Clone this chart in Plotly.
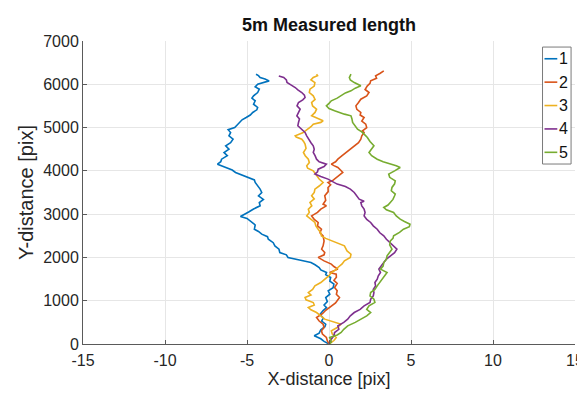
import plotly.graph_objects as go

# ---- data ----
series_names = ["1", "2", "3", "4", "5"]
colors = ["#0072BD", "#D95319", "#EDB120", "#7E2F8E", "#77AC30"]

y1 = [0, 60, 120, 190, 250, 330, 400, 458, 530, 600, 680, 773, 840, 900, 980, 1074, 1150, 1230, 1300, 1382,
      1450, 1536, 1600, 1652, 1710, 1768, 1830, 1883, 1940, 2000, 2060, 2113, 2190, 2267, 2340, 2421, 2480, 2537,
      2600, 2652, 2750, 2845, 2900, 2945, 3000, 3050, 3120, 3192, 3269, 3340, 3424, 3500, 3578, 3650, 3731, 3790,
      3848, 3900, 3963, 4020, 4078, 4120, 4155, 4210, 4270, 4350, 4424, 4500, 4578, 4650, 4732, 4810, 4886, 4950,
      5002, 5060, 5118, 5180, 5232, 5290, 5349, 5410, 5464, 5540, 5618, 5680, 5733, 5810, 5887, 5940, 6002, 6040,
      6079, 6120, 6156, 6200, 6233]
x1 = [0, -0.3, -0.5, -0.9, -0.6, -0.5, -0.25, -0.2, -0.45, -0.35, -0.55, -0.36, -0.15, -0.3, -0.1, -0.2, 0.05, -0.05, 0.25, 0.3,
      0.05, 0.1, -0.2, -0.15, -0.5, -0.6, -0.85, -1.1, -1.8, -2.5, -2.6, -3.0, -3.05, -3.3, -3.4, -3.7, -3.75, -4.1,
      -4.3, -4.55, -4.5, -4.8, -5.0, -5.4, -5.1, -4.9, -4.6, -4.2, -4.25, -4.0, -4.3, -4.1, -4.2, -4.35, -4.5, -4.55,
      -4.9, -5.3, -5.7, -5.9, -6.3, -6.5, -6.8, -6.6, -6.55, -6.2, -6.4, -6.1, -6.3, -6.0, -5.85, -6.1, -6.0, -6.15,
      -5.75, -5.6, -5.45, -5.3, -5.05, -4.8, -4.65, -4.4, -4.35, -4.6, -4.5, -4.7, -4.6, -4.35, -4.25, -4.5, -4.35, -4.0,
      -3.65, -3.9, -4.2, -4.3, -4.45]

y2 = [0, 70, 150, 230, 304, 380, 458, 530, 612, 700, 780, 843, 950, 1074, 1150, 1230, 1305, 1400, 1470, 1540,
      1613, 1652, 1700, 1730, 1790, 1845, 1920, 2000, 2060, 2113, 2190, 2267, 2380, 2498, 2570, 2652, 2730, 2807,
      2880, 2960, 3040, 3115, 3192, 3230, 3320, 3424, 3520, 3617, 3680, 3731, 3770, 3809, 3880, 3963, 4020, 4078,
      4120, 4155, 4210, 4270, 4350, 4424, 4500, 4578, 4650, 4732, 4810, 4886, 4926, 5000, 5079, 5150, 5232, 5290,
      5349, 5420, 5502, 5580, 5656, 5730, 5810, 5880, 5964, 6020, 6079, 6140, 6194, 6250, 6310]
x2 = [0, -0.1, -0.16, -0.4, -0.46, -0.3, -0.36, -0.6, -0.76, -0.4, -0.2, 0.04, 0.4, 0.64, 0.45, 0.5, 0.34, 0.5, 0.3, 0.45,
      0.44, 0.04, 0.3, 0.54, 0.3, 0.14, -0.3, -0.66, -0.3, -0.26, -0.45, -0.36, -0.3, -0.36, -0.55, -0.46, -0.7, -0.66,
      -0.9, -1.06, -0.7, -0.5, -0.16, -0.36, -0.2, -0.26, -0.05, -0.06, 0.1, -0.06, 0.2, 0.34, 0.6, 0.84, 0.7, 0.54,
      0.3, 0.14, 0.4, 0.54, 0.8, 1.04, 1.3, 1.54, 1.8, 1.94, 2.0, 2.14, 2.04, 2.3, 2.24, 2.0, 2.14, 1.9,
      1.94, 1.7, 1.64, 1.8, 1.94, 2.3, 2.44, 2.2, 2.34, 2.5, 2.54, 2.9, 2.84, 3.1, 3.34]

y3 = [0, 80, 150, 230, 304, 380, 458, 520, 574, 650, 727, 790, 843, 900, 958, 1020, 1074, 1130, 1190, 1260,
      1343, 1420, 1497, 1580, 1652, 1710, 1768, 1850, 1921, 2000, 2074, 2150, 2267, 2330, 2382, 2440, 2498, 2570,
      2652, 2730, 2807, 2880, 2960, 3040, 3115, 3192, 3269, 3350, 3424, 3500, 3578, 3650, 3731, 3810, 3886, 3940,
      4001, 4060, 4116, 4190, 4270, 4350, 4424, 4520, 4617, 4680, 4732, 4780, 4810, 4880, 4964, 5020, 5079, 5120,
      5156, 5220, 5272, 5350, 5426, 5500, 5579, 5650, 5733, 5810, 5887, 5960, 6040, 6100, 6156, 6200, 6233]
x3 = [0, 0.3, 0.44, 0.2, 0.14, 0.5, 0.74, 0.2, -0.26, -0.5, -0.76, -1.1, -1.26, -0.9, -0.96, -1.4, -1.46, -1.1, -1.26, -1.0,
      -0.86, -0.5, -0.26, 0.0, 0.14, 0.4, 0.54, 0.8, 0.94, 1.3, 1.34, 1.1, 0.94, 0.5, 0.14, -0.2, -0.46, -0.5,
      -0.66, -0.8, -0.86, -1.1, -1.36, -1.2, -1.26, -1.05, -1.16, -0.9, -1.06, -0.9, -0.86, -0.6, -0.36, -0.6, -0.76, -0.85,
      -0.96, -1.3, -1.36, -1.2, -1.26, -1.45, -1.56, -1.4, -1.46, -1.55, -1.66, -2.0, -2.06, -1.6, -1.26, -1.1, -0.96, -0.5,
      -0.36, -0.8, -1.06, -0.85, -0.76, -1.0, -1.06, -0.85, -0.96, -1.2, -1.16, -0.9, -0.86, -1.1, -0.96, -0.7, -0.76]

y4 = [0, 112, 190, 266, 340, 420, 500, 574, 650, 727, 800, 881, 960, 1036, 1110, 1190, 1260, 1343, 1420, 1497,
      1570, 1652, 1730, 1800, 1883, 1960, 2036, 2110, 2190, 2270, 2344, 2420, 2498, 2570, 2652, 2730, 2807, 2880,
      2960, 3040, 3115, 3192, 3269, 3300, 3347, 3420, 3501, 3580, 3640, 3694, 3750, 3809, 3870, 3925, 3980, 4039,
      4100, 4155, 4210, 4270, 4350, 4424, 4500, 4578, 4650, 4732, 4810, 4886, 4964, 5040, 5118, 5200, 5272, 5350,
      5426, 5500, 5579, 5640, 5695, 5750, 5810, 5870, 5925, 5980, 6040, 6100, 6156, 6194]
x4 = [0, 0.14, 0.3, 0.34, 0.6, 0.54, 0.9, 1.14, 1.3, 1.54, 1.9, 2.14, 2.5, 2.54, 2.7, 2.74, 2.7, 2.84, 2.8, 2.94,
      3.0, 3.14, 3.04, 3.2, 3.34, 3.5, 3.74, 4.0, 4.14, 3.9, 3.74, 3.5, 3.34, 3.1, 2.94, 2.7, 2.54, 2.3,
      2.14, 2.2, 2.14, 2.0, 1.94, 2.14, 1.84, 1.7, 1.54, 1.3, 1.0, 0.5, 0.2, -0.06, -0.5, -0.86, -0.7, -0.66,
      -0.3, -0.16, -0.6, -0.76, -0.85, -0.96, -0.9, -0.96, -1.1, -1.26, -1.36, -1.46, -1.66, -1.9, -1.86, -1.8, -1.96, -1.85,
      -1.76, -1.95, -1.86, -1.6, -1.46, -1.5, -1.66, -1.9, -2.06, -2.3, -2.56, -2.6, -2.76, -3.06]

y5 = [0, 40, 100, 150, 210, 266, 340, 420, 500, 574, 650, 727, 800, 881, 960, 1036, 1110, 1190, 1260, 1343,
      1420, 1497, 1570, 1652, 1730, 1800, 1883, 1960, 2036, 2110, 2190, 2290, 2382, 2440, 2498, 2580, 2652, 2710,
      2768, 2830, 2884, 2960, 3038, 3100, 3154, 3210, 3269, 3340, 3424, 3463, 3540, 3617, 3700, 3771, 3850, 3925,
      4000, 4078, 4120, 4155, 4210, 4270, 4350, 4424, 4500, 4578, 4680, 4771, 4848, 4900, 4964, 5040, 5118, 5200,
      5272, 5310, 5350, 5387, 5440, 5502, 5560, 5618, 5680, 5733, 5800, 5849, 5910, 5964, 6000, 6040, 6100, 6156, 6233]
x5 = [0, 0.14, 0.1, 0.04, 0.5, 0.74, 0.9, 1.14, 1.6, 1.94, 2.3, 2.54, 2.3, 2.44, 2.8, 2.74, 2.5, 2.54, 2.8, 2.94,
      3.1, 3.24, 3.4, 3.54, 3.14, 3.3, 3.34, 3.5, 3.54, 3.7, 3.84, 3.7, 3.74, 3.9, 3.94, 4.3, 4.54, 4.9,
      4.94, 4.6, 4.34, 4.1, 3.94, 3.5, 3.34, 3.6, 3.74, 3.9, 4.0, 4.04, 3.8, 3.84, 4.0, 4.04, 3.7, 3.64,
      4.0, 4.34, 4.1, 3.74, 3.3, 2.94, 2.6, 2.44, 2.6, 2.74, 2.5, 2.34, 2.14, 2.0, 1.74, 1.6, 1.44, 1.4,
      1.34, 0.94, 0.6, 0.34, 0.0, -0.16, 0.0, 0.14, 0.5, 0.74, 1.0, 1.34, 1.6, 1.94, 1.7, 1.54, 1.3, 1.24, 1.34]

xs = [x1, x2, x3, x4, x5]
ys = [y1, y2, y3, y4, y5]

x_ticks = [-15, -10, -5, 0, 5, 10, 15]
x_tick_labels = ["-15", "-10", "-5", "0", "5", "10", "15"]
y_ticks = [0, 1000, 2000, 3000, 4000, 5000, 6000, 7000]
y_tick_labels = ["0", "1000", "2000", "3000", "4000", "5000", "6000", "7000"]

FONT = "Liberation Sans, Arial, sans-serif"

fig = go.Figure()
for name, col, xv, yv in zip(series_names, colors, xs, ys):
    fig.add_trace(go.Scatter(x=xv, y=yv, mode="lines", name=name, showlegend=False,
                             line=dict(color=col, width=1.6)))

axis_common = dict(showgrid=True, gridcolor="#e6e6e6", gridwidth=1,
                   zeroline=False, showline=True, linecolor="#5a5a5a", linewidth=1,
                   ticks="inside", ticklen=4, tickcolor="#5a5a5a",
                   tickfont=dict(family=FONT, size=16, color="#262626"), mirror=False)

# ---- legend box drawn in MATLAB style (short line samples) ----
leg_x0, leg_x1 = 0.934, 0.992
leg_y0, leg_y1 = 0.594, 0.980
shapes = [dict(type="rect", xref="paper", yref="paper", x0=leg_x0, x1=leg_x1, y0=leg_y0, y1=leg_y1,
               line=dict(color="#7a7a7a", width=1), fillcolor="white", layer="above")]
annotations = []
n = len(series_names)
for i, (name, col) in enumerate(zip(series_names, colors)):
    yc = leg_y1 - (leg_y1 - leg_y0) * (i + 0.5) / n
    shapes.append(dict(type="line", xref="paper", yref="paper", x0=0.938, x1=0.964, y0=yc, y1=yc,
                       line=dict(color=col, width=1.6), layer="above"))
    annotations.append(dict(xref="paper", yref="paper", x=0.9655, y=yc, text=name, showarrow=False,
                            xanchor="left", yanchor="middle", borderpad=0,
                            font=dict(family=FONT, size=16, color="#111111")))

fig.update_layout(
    width=585, height=397,
    margin=dict(l=75, r=9, t=33, b=61),
    paper_bgcolor="white", plot_bgcolor="white",
    title=dict(text="<b>5m Measured length</b>", xref="paper", x=0.5, xanchor="center",
               y=0.957, yanchor="middle",
               font=dict(family=FONT, size=18, color="#111111")),
    xaxis=dict(range=[-15, 15], tickvals=x_ticks, ticktext=x_tick_labels, ticklabelstandoff=2,
               **axis_common,
               title=dict(text="X-distance [pix]", standoff=4,
                          font=dict(family=FONT, size=18, color="#262626"))),
    yaxis=dict(range=[0, 7000], tickvals=y_ticks, ticktext=y_tick_labels, **axis_common,
               title=dict(text="Y-distance [pix]", standoff=4,
                          font=dict(family=FONT, size=20, color="#262626"))),
    shapes=shapes,
    annotations=annotations,
    showlegend=False,
)

fig.write_html("out.html")
